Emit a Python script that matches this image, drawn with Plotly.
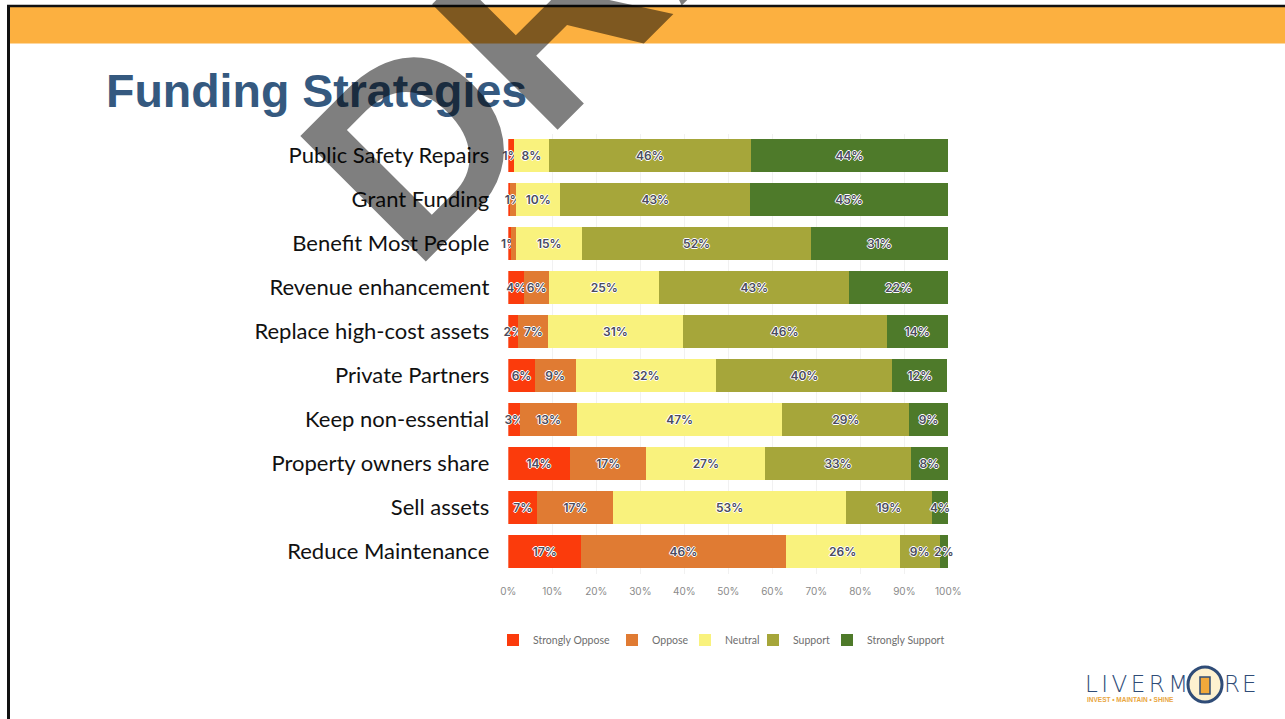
import plotly.graph_objects as go

categories = ["Public Safety Repairs", "Grant Funding", "Benefit Most People",
              "Revenue enhancement", "Replace high-cost assets", "Private Partners",
              "Keep non-essential", "Property owners share", "Sell assets",
              "Reduce Maintenance"]

series_names = ["Strongly Oppose", "Oppose", "Neutral", "Support", "Strongly Support"]

strongly_oppose = [1.3, 0.5, 0.6, 3.6, 2.3, 6.0, 2.7, 14.0, 6.6, 16.6]
oppose          = [0.0, 1.3, 1.2, 5.7, 6.8, 9.3, 12.9, 17.4, 17.3, 46.4]
neutral         = [7.9, 10.0, 15.0, 25.0, 30.5, 32.0, 46.7, 27.0, 52.8, 26.0]
support         = [46.0, 43.2, 52.0, 43.2, 46.4, 40.0, 28.8, 33.1, 19.6, 9.0]
strongly_support = [44.7, 44.9, 31.1, 22.4, 13.9, 12.5, 8.8, 8.4, 3.6, 1.9]

label_so = ["1%", "", "1%", "4%", "2%", "6%", "3%", "14%", "7%", "17%"]
label_o  = ["", "1%", "", "6%", "7%", "9%", "13%", "17%", "17%", "46%"]
label_n  = ["8%", "10%", "15%", "25%", "31%", "32%", "47%", "27%", "53%", "26%"]
label_s  = ["46%", "43%", "52%", "43%", "46%", "40%", "29%", "33%", "19%", "9%"]
label_ss = ["44%", "45%", "31%", "22%", "14%", "12%", "9%", "8%", "4%", "2%"]

colors = ["#FB3B0C", "#E07B33", "#F9F27D", "#A6A63A", "#4E7A2A"]

tick_vals = [0, 10, 20, 30, 40, 50, 60, 70, 80, 90, 100]
tick_text = ["0%", "10%", "20%", "30%", "40%", "50%", "60%", "70%", "80%", "90%", "100%"]

title_text = "Funding Strategies"
watermark_text = "DRAFT"

W, H = 1285, 719
def px(x):
    return x / W
def py(y):
    return 1 - y / H

# left edge of each legend swatch in the reference (pixels)
legend_lefts = [510, 629, 702, 770, 844]
legend_ids = ["legend", "legend2", "legend3", "legend4", "legend5"]

fig = go.Figure()
values = [strongly_oppose, oppose, neutral, support, strongly_support]
labels = [label_so, label_o, label_n, label_s, label_ss]
outline = "1px 0 0 #fff, -1px 0 0 #fff, 0 1px 0 #fff, 0 -1px 0 #fff"
for name, vals, labs, col, lid in zip(series_names, values, labels, colors, legend_ids):
    fig.add_trace(go.Bar(
        y=categories, x=vals, name=name, orientation="h", legend=lid,
        marker=dict(color=col, line=dict(width=0)),
        text=labs, textposition="inside", insidetextanchor="middle",
        textangle=0, constraintext="none", cliponaxis=False,
        textfont=dict(family="Inter", size=12, color="#4A4B5E", weight=600,
                      shadow=outline),
        hoverinfo="skip",
    ))

legend_style = dict(orientation="h", xanchor="left", yanchor="middle", y=py(640),
                    font=dict(family="Lato", size=10.5, color="#6E6E6E"),
                    bgcolor="rgba(0,0,0,0)", itemclick=False, itemdoubleclick=False)
legend_layout = {}
for lid, left in zip(legend_ids, legend_lefts):
    legend_layout[lid] = dict(legend_style, x=px(left - 17))

fig.update_layout(
    template="none",
    width=W, height=H, autosize=False, barmode="stack", bargap=0.27,
    margin=dict(l=0, r=0, t=0, b=0, pad=0, autoexpand=False),
    paper_bgcolor="white", plot_bgcolor="white",
    uniformtext=dict(minsize=12, mode="show"),
    showlegend=True,
    xaxis=dict(domain=[px(508.3), px(948.3)], range=[0, 100], tickvals=tick_vals,
               ticktext=tick_text, showgrid=True, gridcolor="#F1F1F1", gridwidth=1,
               zeroline=False, showline=False, ticks="", ticklabelstandoff=10,
               automargin=False,
               tickfont=dict(family="Inter", size=10, color="#8A8A8A"), fixedrange=True),
    yaxis=dict(domain=[py(573.5), py(133.5)], range=[9.5, -0.5], categoryorder="array",
               categoryarray=categories, showgrid=False, zeroline=False, ticks="",
               ticklabelstandoff=18, automargin=False,
               tickfont=dict(family="Lato", size=22, color="#111111"), fixedrange=True),
    **legend_layout,
)

shapes = [
    dict(type="rect", xref="paper", yref="paper", x0=px(10), x1=1, y0=py(43.5), y1=py(7),
         fillcolor="#FCB040", line=dict(width=0), layer="below"),
    dict(type="line", xref="paper", yref="paper", x0=px(7), x1=1, y0=py(6), y1=py(6),
         line=dict(color="#111111", width=2.5)),
    dict(type="line", xref="paper", yref="paper", x0=px(8.5), x1=px(8.5), y0=0, y1=py(5),
         line=dict(color="#111111", width=3)),
    # logo ring
    dict(type="circle", xref="paper", yref="paper", x0=px(1188), x1=px(1222),
         y0=py(702), y1=py(667), fillcolor="#FDF1CF", line=dict(color="#2F4C77", width=3)),
    dict(type="rect", xref="paper", yref="paper", x0=px(1200), x1=px(1210),
         y0=py(694), y1=py(677), fillcolor="#F2A93B", line=dict(color="#2F4C77", width=1.5)),
]
fig.update_layout(shapes=shapes)

annotations = [
    dict(text=title_text, xref="paper", yref="paper", x=px(104), y=py(91),
         xanchor="left", yanchor="middle", showarrow=False,
         font=dict(family="Liberation Sans", size=46.5, color="#35597F", weight=700)),
    dict(text='<span style="letter-spacing:3.5px">LIVERM</span>', xref="paper", yref="paper",
         x=px(1083), y=py(684), xanchor="left", yanchor="middle", showarrow=False,
         font=dict(family="DejaVu Sans", size=23, color="#2F4C77", weight=300)),
    dict(text='<span style="letter-spacing:2px">RE</span>', xref="paper", yref="paper",
         x=px(1222), y=py(684), xanchor="left", yanchor="middle", showarrow=False,
         font=dict(family="DejaVu Sans", size=23, color="#2F4C77", weight=300)),
    dict(text="INVEST • MAINTAIN • SHINE", xref="paper", yref="paper", x=px(1085), y=py(699),
         xanchor="left", yanchor="middle", showarrow=False,
         font=dict(family="Liberation Sans", size=6.5, color="#E9A640", weight=700)),
    dict(text=watermark_text, xref="paper", yref="paper", x=px(659), y=py(-99),
         xanchor="center", yanchor="middle", showarrow=False, textangle=-45,
         font=dict(family="Liberation Sans", size=258, color="rgba(0,0,0,0.5)", weight=700)),
]
fig.update_layout(annotations=annotations)

fig.write_html(
    "out.html",
    config={"displayModeBar": False, "responsive": False},
    post_script=("document.body.style.margin='0';"
                 "document.body.style.overflow='hidden';"
                 "document.documentElement.style.overflow='hidden';"),
)
